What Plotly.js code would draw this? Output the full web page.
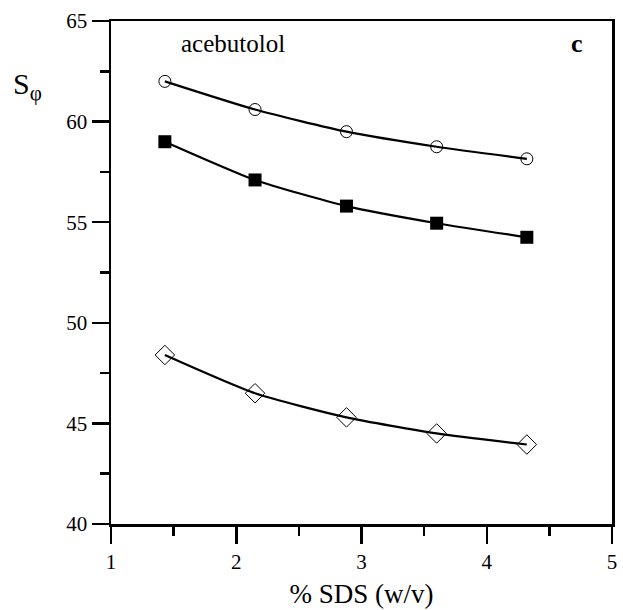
<!DOCTYPE html>
<html><head><meta charset="utf-8">
<script src="https://cdn.plot.ly/plotly-3.0.1.min.js"></script>
<style>body{margin:0;background:#fff}#c{width:623px;height:610px}</style>
</head><body><div id="c"></div>
<script>
const sds = [1.43, 2.15, 2.88, 3.60, 4.32];
const circles = [62.0, 60.6, 59.5, 58.75, 58.15];
const squares = [59.0, 57.1, 55.8, 54.95, 54.25];
const diamonds = [48.4, 46.5, 45.3, 44.5, 43.95];
const xTicks = [1, 2, 3, 4, 5];
const yTicks = [40, 45, 50, 55, 60, 65];

const F = "Liberation Serif";
const line = {color:'#000', width:2.2, shape:'spline', smoothing:0.6};
const traces = [
  {x:sds, y:circles, mode:'lines+markers', line:line,
   marker:{symbol:'circle-open', size:12, color:'#000', line:{width:1, color:'#000'}}},
  {x:sds, y:squares, mode:'lines+markers', line:line,
   marker:{symbol:'square', size:13, color:'#000'}},
  {x:sds, y:diamonds, mode:'lines+markers', line:line,
   marker:{symbol:'diamond-open', size:15, color:'#000', line:{width:1, color:'#000'}}}
];
function ax(rng, vals, mdt, m0, title) {
  const a = {range:rng, tickmode:'array', tickvals:vals, ticks:'outside', ticklen:17, tickwidth:2.5, tickcolor:'#000',
    showline:true, linewidth:2.5, linecolor:'#000', mirror:true, showgrid:false, zeroline:false,
    minor:{dtick:mdt, tick0:m0, ticks:'outside', ticklen:9, tickwidth:2.5, tickcolor:'#000', showgrid:false},
    tickfont:{family:F, size:21, color:'#000'}};
  if (title) a.title = {text:title, font:{family:F, size:27, color:'#000'}, standoff:12};
  return a;
}
const layout = {
  width:623, height:610, showlegend:false,
  paper_bgcolor:'#fff', plot_bgcolor:'#fff',
  margin:{l:111, r:11, t:21, b:86},
  font:{family:F, color:'#000', size:21},
  xaxis:ax([1,5], xTicks, 0.5, 1, '% SDS (w/v)'),
  yaxis:ax([40,65], yTicks, 2.5, 40, null),
  annotations:[
    {text:'acebutolol', xref:'paper', yref:'paper', x:0.136, y:0.955, xanchor:'left', yanchor:'middle',
     showarrow:false, font:{family:F, size:25, color:'#000'}},
    {text:'<b>c</b>', xref:'paper', yref:'paper', x:0.93, y:0.955, xanchor:'center', yanchor:'middle',
     showarrow:false, font:{family:F, size:26, color:'#000'}},
    {text:'S<sub>φ</sub>', xref:'paper', yref:'paper', x:-0.2, y:0.87, xanchor:'left', yanchor:'middle',
     showarrow:false, font:{family:F, size:30, color:'#000'}}
  ]
};
Plotly.newPlot('c', traces, layout, {displayModeBar:false, staticPlot:true});
</script></body></html>
